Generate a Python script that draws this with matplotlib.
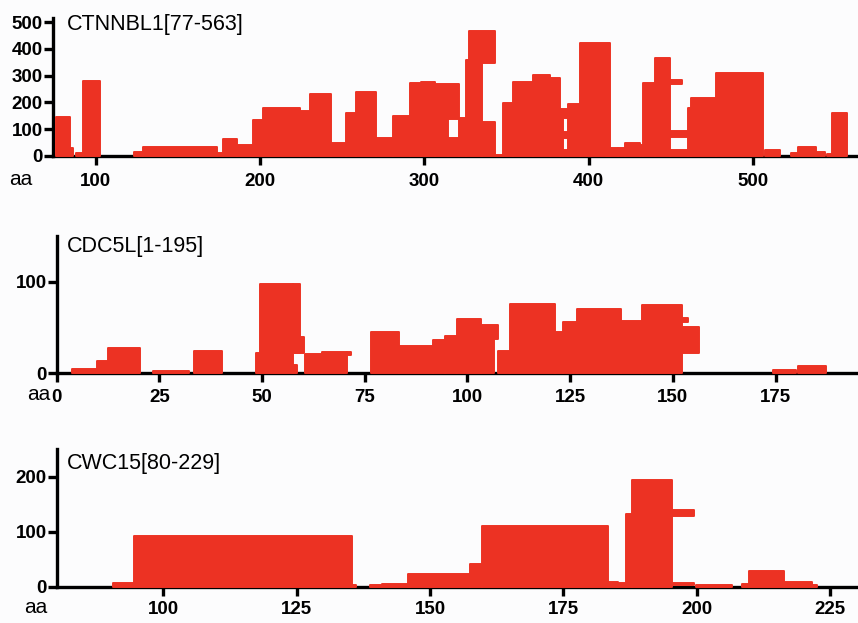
import matplotlib
matplotlib.use("Agg")
import matplotlib.pyplot as plt
import numpy as np

plt.rcParams['font.family'] = ['Liberation Sans', 'DejaVu Sans']

# ---------------- data: peptide coverage rectangles ----------------
# CTNNBL1[77-563]
ctnnbl1_start = [76, 84.6, 87.8, 92.3, 123, 128.6, 174, 177.4, 185.7, 195.7, 201.8, 224.2, 230.3,
                 243.5, 252.3, 258.3, 270.8, 281, 291.1, 298.2, 306.3, 306.3, 314.4, 321.3, 325.6,
                 327.2, 335, 342.8, 347.9, 354, 366.2, 376.3, 382.4, 382.4, 384.4, 384.4, 387.4,
                 394.6, 410.8, 417.9, 422, 431, 433.1, 440.2, 449.4, 449.4, 449.4, 460.5, 462.6,
                 477.8, 507.2, 523.4, 527.5, 538.7, 545, 548.4]
ctnnbl1_end = [84.6, 86, 92.3, 102.4, 128.6, 173.8, 177.4, 185.7, 195.7, 201.8, 224.2, 230.3, 243.5,
               252.6, 258.3, 270.8, 281, 291.1, 298.2, 306.3, 321.3, 314.4, 321.3, 325.6, 335,
               342.8, 342.8, 347.9, 354, 366.2, 376.3, 382.4, 388.5, 384.4, 387.4, 387.4, 394.6,
               412.8, 417.9, 422, 431, 433.1, 440.2, 449.4, 457.1, 460, 460.5, 462.6, 477.8,
               506.2, 516.4, 527.5, 538.7, 543.8, 548.4, 557.3]
ctnnbl1_low = [0, 0, 0, 0, 0, 0, 0, 0, 0, 0, 0, 0, 0,
               0, 0, 0, 0, 0, 0, 0, 137, 0, 0, 0, 0,
               349, 0, 0, 0, 0, 0, 0, 140, 0, 65, 0, 0,
               0, 0, 0, 0, 0, 0, 0, 270, 71, 0, 0, 0,
               0, 0, 0, 0, 0, 0, 0]
ctnnbl1_high = [146, 29, 10, 281, 15, 34, 10, 63, 40, 132, 177, 168, 233,
                46, 159, 238, 68, 149, 271, 276, 270, 137, 65, 140, 359,
                469, 127, 4, 196, 275, 302, 290, 174, 140, 90, 21, 194,
                424, 27, 30, 49, 40, 274, 365, 284, 94, 20, 178, 217,
                311, 21, 10, 34, 15, 5, 161]

# CDC5L[1-195]
cdc5l_start = [3.7, 9.7, 12.6, 23.5, 33.5, 48.5, 49.5, 57.6, 57.6, 57.6, 60.4, 64.5, 70.6,
               76.5, 83.3, 91.5, 94.5, 97.4, 103.4, 103.4, 107.5, 110.3, 121.3, 123.3, 126.6,
               137.3, 142.5, 152.3, 152.3, 174.4, 180.5]
cdc5l_end = [9.7, 12.6, 20.3, 32.3, 40.3, 49.5, 57.6, 59.2, 60.2, 58.4, 64.5, 70.6, 71.6,
             83.3, 91.5, 94.5, 97.4, 103.4, 107.5, 106.4, 110.3, 121.3, 123.3, 126.6, 137.3,
             142.5, 152.3, 153.6, 156.3, 180.1, 187.3]
cdc5l_low = [0, 0, 0, 0, 0, 0, 0, 22, 22, 0, 0, 0, 20,
             0, 0, 0, 0, 0, 37, 0, 0, 0, 0, 0, 0,
             0, 0, 56, 22, 0, 0]
cdc5l_high = [4.4, 13.4, 28, 2.5, 24.7, 22, 97, 97, 40, 9, 21, 23, 23,
              44.7, 30, 36, 41, 59, 53, 38, 24.7, 76, 45, 56, 70.5,
              57, 75, 60, 50, 3.6, 8]

# CWC15[80-229]
cwc15_start = [90.6, 94.5, 135.3, 138.8, 140.9, 145.8, 157.5, 159.7, 183.4, 185, 186.8, 187.8,
               195.4, 195.4, 199.8, 208.4, 209.8, 216.4, 221.6]
cwc15_end = [94.5, 135.3, 136.2, 140.9, 146.3, 157.5, 159.7, 183.4, 185.3, 186.8, 187.8, 195.4,
             199.5, 199.5, 206.6, 209.8, 216.4, 221.6, 222.5]
cwc15_low = [0, 0, 0, 0, 0, 0, 0, 0, 0, 0, 0, 0, 129, 3, 0, 0, 0, 0, 0]
cwc15_high = [7, 92, 3, 3, 5, 23, 40.7, 111, 8, 6, 133, 194, 139, 7, 2.5, 5, 28, 8.5, 3]

titles = ["CTNNBL1[77-563]", "CDC5L[1-195]", "CWC15[80-229]"]
x_ranges = [(74, 564), (0, 195), (80, 230)]
y_ranges = [(0, 515), (0, 150), (0, 250)]
x_ticks = [[100, 200, 300, 400, 500], [0, 25, 50, 75, 100, 125, 150, 175], [100, 125, 150, 175, 200, 225]]
y_ticks = [[0, 100, 200, 300, 400, 500], [0, 100], [0, 100, 200]]

panels = [
    (ctnnbl1_start, ctnnbl1_end, ctnnbl1_low, ctnnbl1_high),
    (cdc5l_start, cdc5l_end, cdc5l_low, cdc5l_high),
    (cwc15_start, cwc15_end, cwc15_low, cwc15_high),
]

# ---------------- layout ----------------
W, H = 858, 623
fig = plt.figure(figsize=(W / 100, H / 100), dpi=100)
bg = '#fcfcfd'
fig.patch.set_facecolor(bg)

# axes boxes in pixel coords: (left, top, right, bottom)
boxes = [(53, 18.3, 858, 155.7), (56.7, 235.7, 857.7, 373.3), (56.7, 449.2, 856.7, 586.7)]
title_base = [30, 251.7, 469.3]
aa_pos = [(32, 185), (50, 400.5), (47, 613)]
x_pads = [6.0, 4.5, 3.5]

red = '#ec3223'
for i, (box, data) in enumerate(zip(boxes, panels)):
    l, t, r, b = box
    ax = fig.add_axes([l / W, 1 - b / H, (r - l) / W, (b - t) / H])
    ax.set_facecolor(bg)
    s, e, lo, hi = (np.array(v, dtype=float) for v in data)
    ax.bar(s, hi - lo, width=e - s, bottom=lo, align='edge', color=red,
           edgecolor=red, linewidth=1.4, joinstyle='round', zorder=3, clip_on=False)
    ax.set_xlim(*x_ranges[i])
    ax.set_ylim(*y_ranges[i])
    ax.set_xticks(x_ticks[i])
    ax.set_yticks(y_ticks[i])
    for sp in ['top', 'right']:
        ax.spines[sp].set_visible(False)
    for sp in ['left', 'bottom']:
        ax.spines[sp].set_linewidth(2.4)
        ax.spines[sp].set_zorder(2)
    ax.tick_params(axis='both', length=6.5, width=2.4, labelsize=13.5)
    ax.tick_params(axis='x', pad=x_pads[i])
    ax.tick_params(axis='y', pad=0.8)
    for lab in ax.get_xticklabels() + ax.get_yticklabels():
        lab.set_fontweight('bold')
    fig.text(66.5 / W, 1 - title_base[i] / H, titles[i], fontsize=15.5, ha='left', va='baseline')
    fig.text(aa_pos[i][0] / W, 1 - aa_pos[i][1] / H, 'aa', fontsize=15, ha='right', va='baseline')

fig.savefig('out.png', dpi=100, facecolor=bg)
